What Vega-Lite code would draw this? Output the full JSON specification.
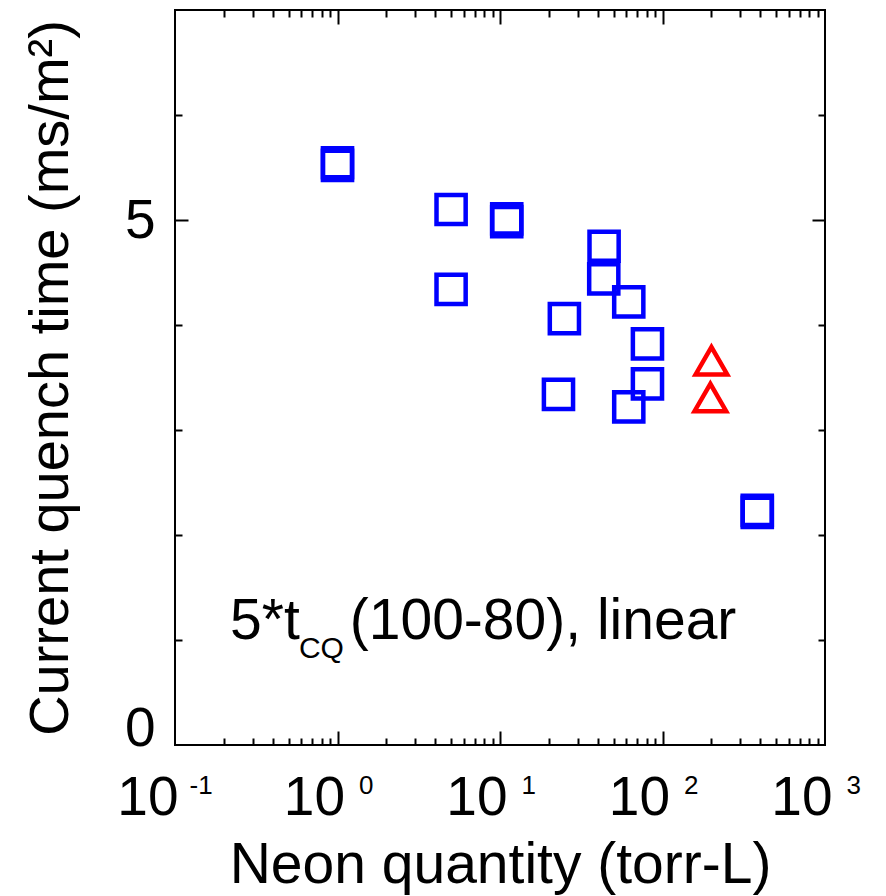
{
  "$schema": "https://vega.github.io/schema/vega-lite/v6.json",
  "width": 650,
  "height": 735,
  "autosize": {"type": "none"},
  "padding": {"left": 175, "top": 10, "right": 61, "bottom": 151},
  "background": "white",
  "config": {
    "view": {"stroke": "black", "strokeWidth": 2},
    "axis": {
      "grid": false,
      "domain": false,
      "labelFont": "Liberation Sans",
      "titleFont": "Liberation Sans",
      "labelColor": "black",
      "titleColor": "black",
      "tickColor": "black",
      "tickWidth": 2,
      "titleFontWeight": "normal"
    },
    "text": {"font": "Liberation Sans"}
  },
  "data": {
    "values": [
      {"neon": 1.0, "tcq": 5.545, "group": "1"},
      {"neon": 1.0, "tcq": 5.52, "group": "1"},
      {"neon": 5.0, "tcq": 5.10, "group": "1"},
      {"neon": 11.0, "tcq": 5.01, "group": "1"},
      {"neon": 11.0, "tcq": 4.985, "group": "1"},
      {"neon": 43.7, "tcq": 4.75, "group": "1"},
      {"neon": 43.5, "tcq": 4.44, "group": "1"},
      {"neon": 5.0, "tcq": 4.34, "group": "1"},
      {"neon": 62.0, "tcq": 4.22, "group": "1"},
      {"neon": 24.9, "tcq": 4.06, "group": "1"},
      {"neon": 80.8, "tcq": 3.82, "group": "1"},
      {"neon": 80.8, "tcq": 3.44, "group": "1"},
      {"neon": 22.9, "tcq": 3.34, "group": "1"},
      {"neon": 62.0, "tcq": 3.22, "group": "1"},
      {"neon": 383.0, "tcq": 2.235, "group": "1"},
      {"neon": 383.0, "tcq": 2.215, "group": "1"},
      {"neon": 200.0, "tcq": 3.66, "group": "2"},
      {"neon": 197.0, "tcq": 3.31, "group": "2"}
    ]
  },
  "layer": [
    {
      "mark": {"type": "point", "filled": false, "strokeWidth": 4.5, "opacity": 1, "strokeJoin": "miter"},
      "encoding": {
        "x": {
          "field": "neon",
          "type": "quantitative",
          "scale": {"type": "log", "domain": [0.1, 1000]},
          "axis": {
            "orient": "bottom",
            "values": [0.1, 1, 10, 100, 1000],
            "ticks": false,
            "labelExpr": "'10'",
            "labelAlign": "right",
            "labelOffset": {"condition": {"test": "datum.value < 0.5", "value": 3}, "value": 7},
            "labelFontSize": 55,
            "labelPadding": 26,
            "labelFlush": false,
            "labelOverlap": false,
            "labelBound": false,
            "title": "Neon quantity (torr-L)",
            "titleFontSize": 57,
            "titlePadding": 12
          }
        },
        "y": {
          "field": "tcq",
          "type": "quantitative",
          "scale": {"domain": [0, 7]},
          "axis": {
            "orient": "left",
            "values": [0, 5],
            "ticks": false,
            "labelFontSize": 55,
            "labelPadding": 20,
            "labelFlush": false,
            "labelOverlap": false,
            "labelBaseline": {"condition": {"test": "datum.value == 0", "value": "alphabetic"}, "value": "middle"},
            "title": "Current quench time (ms/m²)",
            "titleFontSize": 56,
            "titlePadding": 45
          }
        },
        "shape": {
          "field": "group",
          "type": "nominal",
          "scale": {"domain": ["1", "2"], "range": ["square", "triangle-up"]},
          "legend": null
        },
        "color": {
          "field": "group",
          "type": "nominal",
          "scale": {"domain": ["1", "2"], "range": ["#0000ff", "#ff0000"]},
          "legend": null
        },
        "size": {
          "field": "group",
          "type": "nominal",
          "scale": {"domain": ["1", "2"], "range": [850, 1000]},
          "legend": null
        }
      }
    },
    {
      "mark": {"type": "point", "opacity": 0},
      "encoding": {
        "x": {
          "field": "neon",
          "type": "quantitative",
          "axis": {
            "orient": "bottom",
            "values": [0.1, 1, 10, 100, 1000],
            "ticks": false,
            "labelExpr": "round(log(datum.value) / LN10) + ''",
            "labelAlign": "left",
            "labelBaseline": "top",
            "labelOffset": {"condition": {"test": "datum.value < 0.5", "value": 14}, "value": 21},
            "labelFontSize": 26,
            "labelPadding": 27,
            "labelFlush": false,
            "labelOverlap": false,
            "labelBound": false,
            "title": null
          }
        },
        "y": {
          "field": "tcq",
          "type": "quantitative",
          "axis": {
            "orient": "left",
            "values": [1, 2, 3, 4, 5, 6],
            "labels": false,
            "title": null,
            "tickSize": {"condition": {"test": "datum.value == 5", "value": -13}, "value": -7}
          }
        }
      }
    },
    {
      "mark": {"type": "point", "opacity": 0},
      "encoding": {
        "x": {
          "field": "neon",
          "type": "quantitative",
          "axis": {
            "orient": "bottom",
            "values": [0.2, 0.3, 0.4, 0.5, 0.6, 0.7, 0.8, 0.9, 1, 2, 3, 4, 5, 6, 7, 8, 9, 10, 20, 30, 40, 50, 60, 70, 80, 90, 100, 200, 300, 400, 500, 600, 700, 800, 900],
            "labels": false,
            "title": null,
            "tickSize": {"condition": {"test": "abs(log(datum.value) / LN10 - round(log(datum.value) / LN10)) < 0.001", "value": -14}, "value": -7}
          }
        },
        "y": {
          "field": "tcq",
          "type": "quantitative",
          "axis": {
            "orient": "right",
            "values": [1, 2, 3, 4, 5, 6],
            "labels": false,
            "title": null,
            "tickSize": {"condition": {"test": "datum.value == 5", "value": -13}, "value": -7}
          }
        }
      }
    },
    {
      "mark": {"type": "point", "opacity": 0},
      "encoding": {
        "x": {
          "field": "neon",
          "type": "quantitative",
          "axis": {
            "orient": "top",
            "values": [0.2, 0.3, 0.4, 0.5, 0.6, 0.7, 0.8, 0.9, 1, 2, 3, 4, 5, 6, 7, 8, 9, 10, 20, 30, 40, 50, 60, 70, 80, 90, 100, 200, 300, 400, 500, 600, 700, 800, 900],
            "labels": false,
            "title": null,
            "tickSize": {"condition": {"test": "abs(log(datum.value) / LN10 - round(log(datum.value) / LN10)) < 0.001", "value": -14}, "value": -7}
          }
        },
        "y": {"field": "tcq", "type": "quantitative", "axis": null}
      }
    },
    {
      "data": {
        "values": [
          {"text": "5*t", "neon": 0.218, "tcq": 1.01},
          {"text": "(100-80), linear", "neon": 1.19, "tcq": 1.01}
        ]
      },
      "mark": {"type": "text", "align": "left", "baseline": "alphabetic", "color": "black", "fontSize": 57},
      "encoding": {
        "x": {"field": "neon", "type": "quantitative", "axis": null},
        "y": {"field": "tcq", "type": "quantitative", "axis": null},
        "text": {"field": "text"}
      }
    },
    {
      "data": {
        "values": [
          {"text": "CQ", "neon": 0.579, "tcq": 0.829}
        ]
      },
      "mark": {"type": "text", "align": "left", "baseline": "alphabetic", "color": "black", "fontSize": 30},
      "encoding": {
        "x": {"field": "neon", "type": "quantitative", "axis": null},
        "y": {"field": "tcq", "type": "quantitative", "axis": null},
        "text": {"field": "text"}
      }
    }
  ],
  "resolve": {"axis": {"x": "independent", "y": "independent"}}
}
